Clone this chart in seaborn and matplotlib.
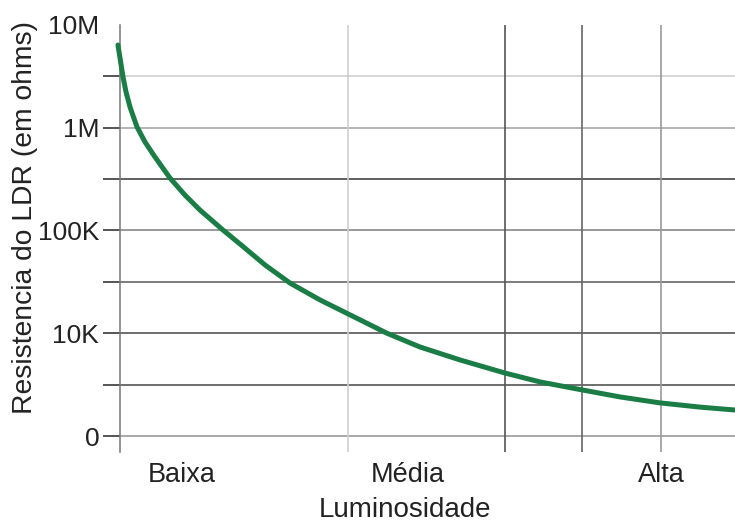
import numpy as np
import pandas as pd
import matplotlib
matplotlib.use("Agg")
import matplotlib.pyplot as plt
import seaborn as sns

# curve (x: 0-100 across the plot, y: ohms, log scale)
luminosity = [-0.33, 0.0, 0.49, 0.98, 1.63, 2.76, 4.07, 5.69, 8.13, 10.57,
              13.01, 16.75, 19.51, 23.58, 27.64, 32.52, 37.40, 43.41, 48.78,
              55.28, 62.60, 68.29, 75.12, 81.30, 87.80, 94.31, 100.0]
resistance = [6.38e6, 4.78e6, 3.12e6, 2.23e6, 1.59e6, 1.02e6, 7.26e5, 5.19e5,
              3.24e5, 2.21e5, 1.58e5, 1.01e5, 7.39e4, 4.62e4, 3.08e4, 2.11e4,
              1.51e4, 1.00e4, 7.35e3, 5.50e3, 4.10e3, 3.36e3, 2.81e3, 2.40e3,
              2.10e3, 1.91e3, 1.79e3]

x_tick_pos = [10.1, 46.8, 88.0]
x_tick_labels = ["Baixa", "Média", "Alta"]
x_grid_pos = [37.1, 62.6, 75.1, 88.0]
x_grid_colors = ["#cfcfcf", "#555555", "#666666", "#999999"]

y_major = [1e3, 1e4, 1e5, 1e6, 1e7]
y_major_labels = ["0", "10K", "100K", "1M", "10M"]
y_major_colors = ["#999999", "#555555", "#888888", "#a8a8a8", "#ffffff"]
y_minor = [10 ** 3.5, 10 ** 4.5, 10 ** 5.5, 10 ** 6.5]
y_minor_colors = ["#555555", "#666666", "#444444", "#d0d0d0"]

df = pd.DataFrame({"Luminosidade": luminosity, "Resistencia": resistance})

sns.set_style("white")
plt.rcParams["font.family"] = ["Liberation Sans", "DejaVu Sans"]

fig = plt.figure(figsize=(7.35, 5.23), dpi=100)
ax = fig.add_axes([120 / 735, 1 - 452 / 523, 615 / 735, 427 / 523])

for xg, c in zip(x_grid_pos, x_grid_colors):
    ax.axvline(xg, color=c, lw=1.2, zorder=1)

sns.lineplot(data=df, x="Luminosidade", y="Resistencia", ax=ax, sort=False,
             color="#1b7d46", lw=3.6, zorder=3, clip_on=False)

ax.set_yscale("log")
ax.set_xlim(0, 100)
ax.set_ylim(10 ** (3 - 16 / 102.75), 1e7)

ax.set_yticks(y_major)
ax.set_yticklabels(y_major_labels)
ax.set_yticks(y_minor, minor=True)
ax.yaxis.set_minor_formatter(matplotlib.ticker.NullFormatter())
ax.tick_params(axis="y", which="both", length=12, width=1.1, pad=3,
               left=True, labelsize=19, labelcolor="#222222")
ax.grid(True, axis="y", which="both", lw=1.2)

for t, c in zip(ax.yaxis.get_major_ticks(), y_major_colors):
    t.gridline.set_color(c)
    t.tick1line.set_color(c)
for t, c in zip(ax.yaxis.get_minor_ticks(), y_minor_colors):
    t.gridline.set_color(c)
    t.tick1line.set_color(c)
top_tick = ax.yaxis.get_major_ticks()[-1]
top_tick.gridline.set_visible(False)
top_tick.tick1line.set_visible(False)

ax.set_xticks(x_tick_pos)
ax.set_xticklabels(x_tick_labels)
ax.tick_params(axis="x", length=0, pad=7, labelsize=19.5, labelcolor="#222222")

ax.set_xlabel("Luminosidade", fontsize=20, color="#222222")
ax.xaxis.set_label_coords(0.463, -0.105)
ax.set_ylabel("Resistencia do LDR (em ohms)", fontsize=20.3, color="#222222")
ax.yaxis.set_label_coords(-0.134, 0.55)

for side in ["top", "right", "bottom"]:
    ax.spines[side].set_visible(False)
ax.spines["left"].set_color("#777777")
ax.spines["left"].set_linewidth(1.1)

fig.savefig("out.png", dpi=100)
